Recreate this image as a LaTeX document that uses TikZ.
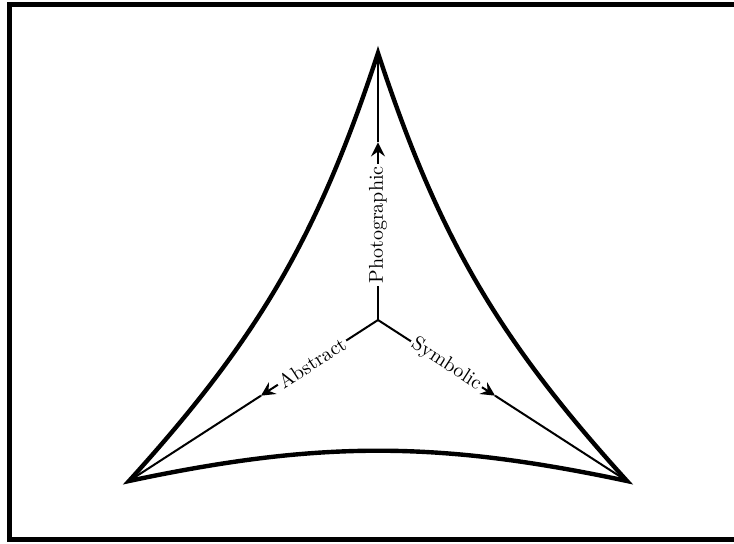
\documentclass[tikz,border=0pt]{standalone}
\usetikzlibrary{arrows.meta,calc}

\begin{document}
\begin{tikzpicture}[x=0.5pt, y=-0.5pt, every node/.style={font=\normalsize}]
\tikzset{
  rim/.style={line width=2.2pt, line join=miter},
  axis/.style={line width=1pt},
  tip/.style={-{Stealth[length=7pt,width=7pt,inset=2.5pt]}},
  lbl/.style={fill=white, inner sep=1.2pt, sloped}
}
\useasboundingbox (0,0) rectangle (734,544);
% Frame (right side falls off the page)
\draw[line width=2.5pt] (9,5) rectangle (760,539.5);

% Corners and hub
\coordinate (apex) at (378,53);
\coordinate (lcorner) at (129,481);
\coordinate (rcorner) at (627,481);
\coordinate (hub) at (378,320);

% Curved triangle
\draw[rim] (apex) to[bend left=12] (lcorner) to[bend left=12] (rcorner) to[bend left=12] cycle;

% Axes
\coordinate (ptip) at ($(hub)!0.665!(apex)$);
\coordinate (atip) at ($(hub)!0.47!(lcorner)$);
\coordinate (stip) at ($(hub)!0.47!(rcorner)$);
\draw[axis,tip] (hub) -- (ptip);
\draw[axis] (ptip) -- (apex);
\draw[axis,tip] (hub) -- (atip);
\draw[axis] (atip) -- (lcorner);
\draw[axis,tip] (hub) -- (stip);
\draw[axis] (stip) -- (rcorner);

% Labels
\path (hub) -- node[lbl, pos=0.356] (photo) {Photographic} (apex);
\path (hub) -- node[lbl, pos=0.265] (abstr) {Abstract} (lcorner);
\path (hub) -- node[lbl, pos=0.275] (symb) {Symbolic} (rcorner);
\end{tikzpicture}
\end{document}
